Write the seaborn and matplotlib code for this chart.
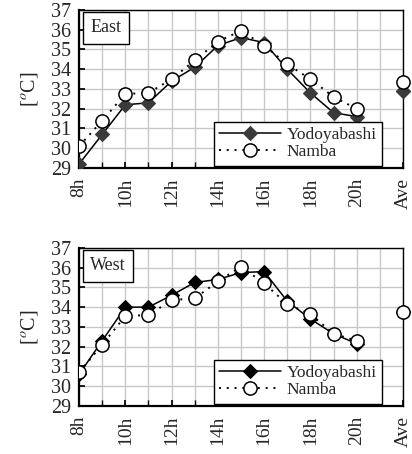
import numpy as np
import pandas as pd
import matplotlib
matplotlib.use('Agg')
import matplotlib.pyplot as plt
from matplotlib.ticker import MultipleLocator
import seaborn as sns

# hourly air temperature, 8h .. 20h, plus daily average
hours = ["8h", "9h", "10h", "11h", "12h", "13h", "14h", "15h", "16h", "17h", "18h", "19h", "20h"]
tick_labels = ["8h", "10h", "12h", "14h", "16h", "18h", "20h", "Ave"]

east_yodoyabashi = [29.2, 30.7, 32.2, 32.3, 33.4, 34.1, 35.2, 35.6, 35.35, 34.0, 32.8, 31.8, 31.6]
east_namba = [30.1, 31.4, 32.75, 32.8, 33.5, 34.45, 35.4, 35.95, 35.2, 34.25, 33.5, 32.6, 32.0]
east_ave = {"Yodoyabashi": 32.9, "Namba": 33.35}

west_yodoyabashi = [30.6, 32.3, 34.0, 34.0, 34.6, 35.25, 35.4, 35.75, 35.8, 34.3, 33.4, 32.65, 32.15]
west_namba = [30.7, 32.1, 33.55, 33.6, 34.35, 34.45, 35.3, 36.05, 35.2, 34.15, 33.65, 32.65, 32.3]
west_ave = {"Yodoyabashi": 33.75, "Namba": 33.75}

sns.set_theme(style="white")
plt.rcParams['font.family'] = ['Liberation Serif', 'DejaVu Serif']
plt.rcParams['mathtext.fontset'] = 'stix'

fig = plt.figure(figsize=(4.12, 4.54), dpi=100)
ax_top = fig.add_axes([0.192, 0.630, 0.786, 0.348])
ax_bot = fig.add_axes([0.192, 0.106, 0.786, 0.348])

AVE_POS = 14


def draw_panel(ax, name, yodo, namba, ave, diamond_color):
    x = np.arange(len(hours))
    df = pd.DataFrame({"x": x, "Yodoyabashi": yodo, "Namba": namba})
    sns.lineplot(data=df, x="x", y="Yodoyabashi", ax=ax, color="black", lw=1.1,
                 marker="D", markersize=7.5, markerfacecolor=diamond_color,
                 markeredgecolor=diamond_color, label="Yodoyabashi", zorder=3)
    sns.lineplot(data=df, x="x", y="Namba", ax=ax, color="black", lw=1.4,
                 linestyle=(0, (1, 3)), marker="o", markersize=9.5,
                 markerfacecolor="white", markeredgecolor="black",
                 markeredgewidth=1.1, label="Namba", zorder=4)
    # daily averages, not connected to the hourly lines
    ax.plot([AVE_POS], [ave["Yodoyabashi"]], marker="D", ms=7.5, color=diamond_color,
            ls="none", zorder=3, clip_on=False)
    ax.plot([AVE_POS], [ave["Namba"]], marker="o", ms=9.5, mfc="white", mec="black",
            mew=1.1, ls="none", zorder=4, clip_on=False)

    ax.set_xlim(0, AVE_POS)
    ax.set_ylim(29, 37)
    ax.xaxis.set_minor_locator(MultipleLocator(1))
    ax.yaxis.set_major_locator(MultipleLocator(1))
    ax.set_xticks(range(0, AVE_POS + 1, 2))
    ax.set_xticklabels(tick_labels, rotation=90, fontsize=14)
    ax.tick_params(axis="y", labelsize=14.5, pad=6)
    ax.tick_params(axis="x", pad=7)
    ax.tick_params(which="both", direction="in", length=4, color="black",
                   bottom=True, left=True)
    ax.grid(True, which="both", color="#c8c8c8", lw=1)
    ax.set_axisbelow(True)
    for side in ["left", "bottom"]:
        ax.spines[side].set_linewidth(1.6)
        ax.spines[side].set_color("black")
    for side in ["top", "right"]:
        ax.spines[side].set_linewidth(1.0)
        ax.spines[side].set_color("black")
    ax.set_xlabel("")
    ax.set_ylabel("[$^{o}$C]", fontsize=14.5, labelpad=8)
    ax.text(0.035, 0.94, name, transform=ax.transAxes, fontsize=13, va="top", ha="left",
            bbox=dict(boxstyle="square,pad=0.4", fc="white", ec="black", lw=1))
    leg = ax.legend(loc="lower right", bbox_to_anchor=(0.935, 0.015), fontsize=12.5,
                    frameon=True, fancybox=False, edgecolor="black", framealpha=1,
                    handlelength=3.6, handletextpad=0.3, borderpad=0.3,
                    labelspacing=0.05, borderaxespad=0)
    leg.get_frame().set_linewidth(1.0)


draw_panel(ax_top, "East", east_yodoyabashi, east_namba, east_ave, "#3a3a3a")
draw_panel(ax_bot, "West", west_yodoyabashi, west_namba, west_ave, "black")

fig.savefig("out.png", dpi=100)
plt.close(fig)
